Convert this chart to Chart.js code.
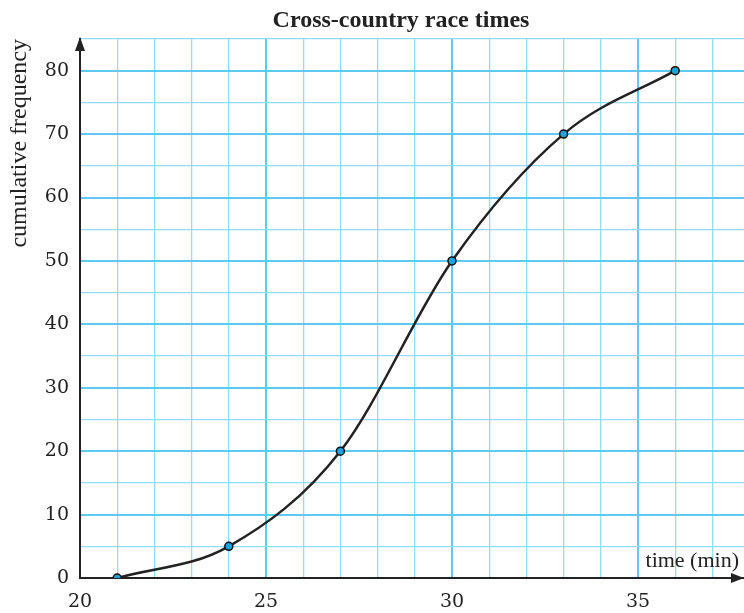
<!DOCTYPE html>
<html>
<head>
<meta charset="utf-8">
<script src="https://cdn.jsdelivr.net/npm/chart.js@4.4.0/dist/chart.umd.min.js"></script>
<style>
  html, body { margin: 0; padding: 0; background: #fff; }
  #wrap { width: 744px; height: 613px; }
</style>
</head>
<body>
<div id="wrap"><canvas id="ogive"></canvas></div>
<script>
// race times (min) and cumulative frequency
var times = [21, 24, 27, 30, 33, 36];
var cumFreq = [0, 5, 20, 50, 70, 80];
var xRange = [20, 37.85];
var yRange = [0, 85];
var chartTitle = 'Cross-country race times';

var serif = "'Liberation Serif', 'DejaVu Serif', serif";
var digits = "'DejaVu Serif', serif";
var minorGrid = '#93dcf7';
var majorGrid = '#5ec9f1';

// title, arrowheads on the axes, "time (min)" inside the plot
var axisExtras = {
    id: 'axisExtras',
    afterDraw: function (chart) {
        var c = chart.ctx, a = chart.chartArea;
        c.save();
        c.fillStyle = '#222';
        c.beginPath();
        c.moveTo(a.left, a.top - 2);
        c.lineTo(a.left - 5, a.top + 12);
        c.lineTo(a.left + 5, a.top + 12);
        c.closePath();
        c.fill();
        c.beginPath();
        c.moveTo(a.right, a.bottom);
        c.lineTo(a.right - 13, a.bottom - 5);
        c.lineTo(a.right - 13, a.bottom + 5);
        c.closePath();
        c.fill();
        c.textBaseline = 'alphabetic';
        c.font = '22px ' + serif;
        c.textAlign = 'right';
        c.fillText('time (min)', a.right - 5, a.bottom - 11);
        c.font = 'bold 24px ' + serif;
        c.textAlign = 'center';
        c.fillText(chartTitle, (a.left + a.right) / 2 - 11, 27);
        c.restore();
    }
};

var ctx = document.getElementById('ogive').getContext('2d');
var chart = new Chart(ctx, {
    type: 'line',
    data: {
        datasets: [{
            label: 'cumulative frequency',
            data: times.map(function (t, i) { return { x: t, y: cumFreq[i] }; }),
            borderColor: '#222',
            borderWidth: 2.5,
            cubicInterpolationMode: 'monotone',
            pointRadius: 4,
            pointBackgroundColor: '#1ba3dc',
            pointBorderColor: '#111',
            pointBorderWidth: 1.5,
            fill: false
        }]
    },
    options: {
        responsive: true,
        maintainAspectRatio: false,
        animation: false,
        layout: { autoPadding: false, padding: { top: 39, left: 0, right: 0, bottom: 0 } },
        plugins: {
            legend: { display: false },
            tooltip: { enabled: false },
            title: { display: false }
        },
        scales: {
            x: {
                type: 'linear',
                min: xRange[0],
                max: xRange[1],
                afterFit: function (s) { s.height = 35; },
                border: { color: '#222', width: 2 },
                grid: {
                    drawTicks: false,
                    color: function (c) { return c.tick && c.tick.value % 5 === 0 ? majorGrid : minorGrid; },
                    lineWidth: function (c) { return c.tick && c.tick.value % 5 === 0 ? 2 : 1.3; }
                },
                ticks: {
                    stepSize: 1,
                    includeBounds: false,
                    autoSkip: false,
                    maxRotation: 0,
                    padding: 13,
                    color: '#222',
                    font: { family: digits, size: 19 },
                    callback: function (v) { return v % 5 === 0 ? v : ''; }
                }
            },
            y: {
                min: yRange[0],
                max: yRange[1],
                afterFit: function (s) { s.width = 80; },
                border: { color: '#222', width: 2 },
                grid: {
                    drawTicks: false,
                    color: function (c) { return c.tick && c.tick.value % 10 === 0 ? majorGrid : minorGrid; },
                    lineWidth: function (c) { return c.tick && c.tick.value % 10 === 0 ? 2 : 1.3; }
                },
                title: {
                    display: true,
                    text: 'cumulative frequency',
                    align: 'end',
                    color: '#222',
                    font: { family: serif, size: 24, lineHeight: 1.2 },
                    padding: { top: 5, bottom: 0 }
                },
                ticks: {
                    stepSize: 5,
                    autoSkip: false,
                    padding: 11,
                    color: '#222',
                    font: { family: digits, size: 19 },
                    callback: function (v) { return v % 10 === 0 ? v : ''; }
                }
            }
        }
    },
    plugins: [axisExtras]
});
</script>
</body>
</html>
